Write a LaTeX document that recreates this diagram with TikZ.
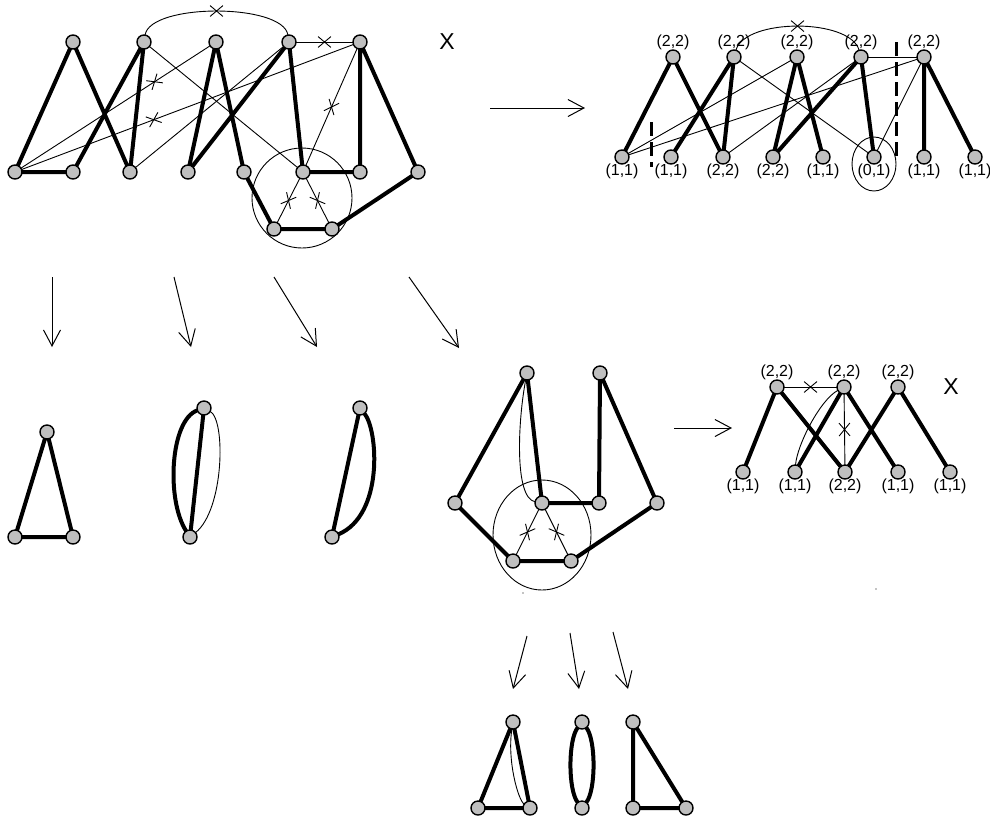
\documentclass[tikz,border=0pt]{standalone}
\usepackage{fontspec}
\setmainfont{Liberation Sans}
\usetikzlibrary{arrows.meta,shapes.misc}
\pgfdeclarelayer{bg}
\pgfsetlayers{bg,main}
\begin{document}
\begin{tikzpicture}[x=1pt,y=-1pt,
  vtx/.style={circle,draw,fill=black!25,line width=1.4pt,minimum size=14pt,inner sep=0pt,outer sep=0pt},
  thk/.style={line width=4pt},
  thn/.style={line width=0.9pt},
  crs/.style={draw,cross out,line width=0.9pt,minimum width=12pt,minimum height=10pt,inner sep=0pt,sloped},
  arr/.style={line width=1pt,-{Straight Barb[length=16pt,width=17pt,line width=1pt]}},
  lbl/.style={font=\fontsize{16}{16}\selectfont,inner sep=0pt},
  lu/.style={label={[lbl]above:{#1}}},
  ld/.style={label={[lbl]below:{#1}}},
  bigx/.style={font=\fontsize{23}{23}\selectfont,inner sep=0pt},
  dsh/.style={line width=3pt,dash pattern=on 14pt off 6pt}
]
\useasboundingbox (0,0) rectangle (990,815);

% ---------- top-left graph ----------
\node[vtx] (A1) at (73,42) {};
\node[vtx] (A2) at (144,42) {};
\node[vtx] (A3) at (216,42) {};
\node[vtx] (A4) at (289,42) {};
\node[vtx] (A5) at (360,42) {};
\node[vtx] (a1) at (15,172) {};
\node[vtx] (a2) at (73,172) {};
\node[vtx] (a3) at (130,172) {};
\node[vtx] (a4) at (188,172) {};
\node[vtx] (a5) at (244,172) {};
\node[vtx] (a6) at (303,172) {};
\node[vtx] (a7) at (360,172) {};
\node[vtx] (a8) at (418,172) {};
\node[vtx] (ap1) at (274,229) {};
\node[vtx] (ap2) at (332,229) {};
\node[bigx] (X1) at (447,42) {X};

% ---------- top-right graph ----------
\node[vtx,lu={(2,2)}] (C1) at (673,57) {};
\node[vtx,lu={(2,2)}] (C2) at (734,57) {};
\node[vtx,lu={(2,2)}] (C3) at (797,57) {};
\node[vtx,lu={(2,2)}] (C4) at (861,57) {};
\node[vtx,lu={(2,2)}] (C5) at (924,57) {};
\node[vtx,ld={(1,1)}] (c1) at (622,157) {};
\node[vtx,ld={(1,1)}] (c2) at (671,157) {};
\node[vtx,ld={(2,2)}] (c3) at (723,157) {};
\node[vtx,ld={(2,2)}] (c4) at (773,157) {};
\node[vtx,ld={(1,1)}] (c5) at (823,157) {};
\node[vtx,ld={(0,1)}] (c6) at (874,157) {};
\node[vtx,ld={(1,1)}] (c7) at (924,157) {};
\node[vtx,ld={(1,1)}] (c8) at (975,157) {};

% ---------- second row small graphs ----------
\node[vtx] (d1) at (47,432) {};
\node[vtx] (d2) at (15,537) {};
\node[vtx] (d3) at (73,537) {};
\node[vtx] (e1) at (204,408) {};
\node[vtx] (e2) at (190,537) {};
\node[vtx] (f1) at (360,408) {};
\node[vtx] (f2) at (332,537) {};

% ---------- middle graph ----------
\node[vtx] (m1) at (527,373) {};
\node[vtx] (m2) at (600,373) {};
\node[vtx] (m3) at (455,503) {};
\node[vtx] (m4) at (542,503) {};
\node[vtx] (m5) at (599,503) {};
\node[vtx] (m6) at (657,503) {};
\node[vtx] (m7) at (513,561) {};
\node[vtx] (m8) at (571,561) {};

% ---------- right-middle graph ----------
\node[vtx,lu={(2,2)}] (R1) at (777,387) {};
\node[vtx,lu={(2,2)}] (R2) at (844,387) {};
\node[vtx,lu={(2,2)}] (R3) at (898,387) {};
\node[vtx,ld={(1,1)}] (r1) at (743,472) {};
\node[vtx,ld={(1,1)}] (r2) at (795,472) {};
\node[vtx,ld={(2,2)}] (r3) at (845,472) {};
\node[vtx,ld={(1,1)}] (r4) at (898,472) {};
\node[vtx,ld={(1,1)}] (r5) at (950,472) {};
\node[bigx] (X2) at (951,387) {X};

% ---------- bottom small graphs ----------
\node[vtx] (g1) at (513,722) {};
\node[vtx] (g2) at (478,808) {};
\node[vtx] (g3) at (530,808) {};
\node[vtx] (h1) at (582,722) {};
\node[vtx] (h2) at (582,808) {};
\node[vtx] (k1) at (633,722) {};
\node[vtx] (k2) at (633,808) {};
\node[vtx] (k3) at (686,808) {};

% arrow end points
\coordinate (s0) at (490,108);  \coordinate (t0) at (585,108);
\coordinate (s1) at (52,277);   \coordinate (t1) at (52,347);
\coordinate (s2) at (174,277);  \coordinate (t2) at (191,347);
\coordinate (s3) at (274,277);  \coordinate (t3) at (317,347);
\coordinate (s4) at (409,277);  \coordinate (t4) at (459,348);
\coordinate (s5) at (674,428);  \coordinate (t5) at (732,428);
\coordinate (s6) at (527,636);  \coordinate (t6) at (513,689);
\coordinate (s7) at (570,633);  \coordinate (t7) at (579,689);
\coordinate (s8) at (613,632);  \coordinate (t8) at (628,689);

\begin{pgfonlayer}{bg}
% top-left thick
\draw[thk] (a1)--(A1) (A1)--(a3) (a1)--(a2) (a2)--(A2) (A2)--(a3)
  (a4)--(A3) (A3)--(a5) (a4)--(A4) (A4)--(a6) (a6)--(a7)
  (A5)--(a7) (A5)--(a8) (a8)--(ap2) (ap1)--(ap2) (a5)--(ap1);
% top-left thin
\draw[thn] (A2) .. controls (150,3) and (283,3) .. node[crs,pos=0.5]{} (A4);
\draw[thn] (A4) -- node[crs]{} (A5);
\draw[thn] (a1.center) -- node[crs,pos=0.715]{} (A3);
\draw[thn] (a1.center) -- node[crs,pos=0.41]{} (A5);
\draw[thn] (A2) -- (a6);
\draw[thn] (a3) -- (A4);
\draw[thn] (A5) -- node[crs]{} (a6);
\draw[thn] (a6) -- node[crs]{} (ap1);
\draw[thn] (a6) -- node[crs]{} (ap2);
\draw[thn] (302,198) circle[radius=50];

% top-right thick
\draw[thk] (c1)--(C1) (C1)--(c3) (c2)--(C2) (C2)--(c3) (c4)--(C3) (C3)--(c5)
  (c4)--(C4) (C4)--(c6) (C5)--(c7) (C5)--(c8);
% top-right thin
\draw[thn] (C2) .. controls (745,18) and (850,18) .. node[crs,pos=0.5]{} (C4);
\draw[thn] (C4) -- (C5);
\draw[thn] (c1.center) -- (C3);
\draw[thn] (c1.center) -- (C5);
\draw[thn] (C2) -- (c6);
\draw[thn] (c3) -- (C4);
\draw[thn] (C5) -- (c6);
\draw[thn] (874,164) ellipse[x radius=22, y radius=27];
\draw[dsh] (651,122) -- (651,167);
\draw[dsh] (896,42) -- (896,157);

% second row small graphs
\draw[thk] (d1)--(d2) (d2)--(d3) (d3)--(d1);
\draw[thk] (e2)--(e1);
\draw[thk] (e2) .. controls (166,500) and (170,420) .. (e1);
\draw[thn] (e2) .. controls (224,510) and (226,420) .. (e1);
\draw[thk] (f2)--(f1);
\draw[thk] (f2) .. controls (384,515) and (378,430) .. (f1);

% middle graph
\draw[thk] (m1)--(m3) (m1)--(m4) (m4)--(m5) (m5)--(m2) (m2)--(m6)
  (m3)--(m7) (m7)--(m8) (m8)--(m6);
\draw[thn] (m1) .. controls (518,420) and (514,498) .. (m4);
\draw[thn] (m4) -- node[crs]{} (m7);
\draw[thn] (m4) -- node[crs]{} (m8);
\draw[thn] (542,535) ellipse[x radius=49, y radius=55];

% right-middle graph
\draw[thk] (r1)--(R1) (R1)--(r3) (r2)--(R2) (R2)--(r4) (r3)--(R3) (R3)--(r5);
\draw[thn] (R1) -- node[crs]{} (R2);
\draw[thn] (R2) -- node[crs,pos=0.5]{} (r3);
\draw[thn] (r2) .. controls (797,445) and (820,400) .. (R2);

% bottom small graphs
\draw[thk] (g1)--(g2) (g2)--(g3) (g3)--(g1);
\draw[thn] (g1) .. controls (507,760) and (518,800) .. (g3);
\draw[thk] (h1) .. controls (568,740) and (568,790) .. (h2);
\draw[thk] (h1) .. controls (596,740) and (596,790) .. (h2);
\draw[thk] (k1)--(k2) (k2)--(k3) (k3)--(k1);
\end{pgfonlayer}

% arrows
\draw[arr] (s0)--(t0);
\draw[arr] (s1)--(t1);
\draw[arr] (s2)--(t2);
\draw[arr] (s3)--(t3);
\draw[arr] (s4)--(t4);
\draw[arr] (s5)--(t5);
\draw[arr] (s6)--(t6);
\draw[arr] (s7)--(t7);
\draw[arr] (s8)--(t8);

% tiny dots
\fill (523,593) circle[radius=0.6];
\fill (876,589) circle[radius=0.6];
\end{tikzpicture}
\end{document}
